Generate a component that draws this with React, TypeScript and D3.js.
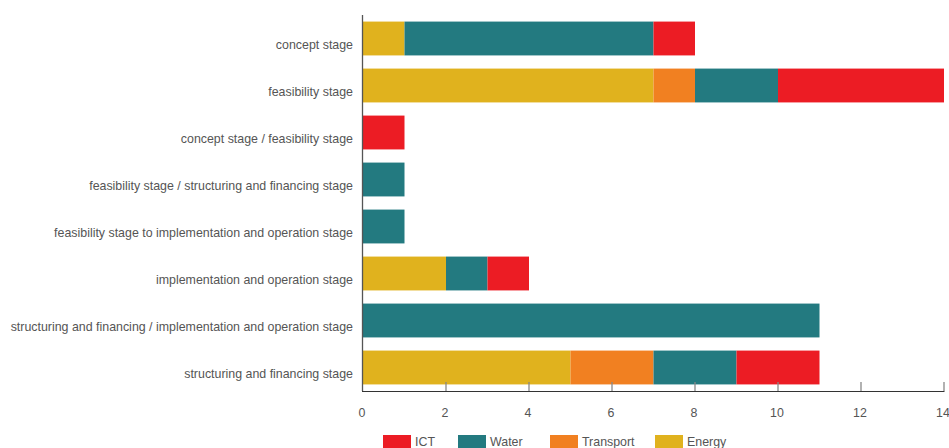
import React from "react";
import * as d3 from "d3";

const categories = [
  "concept stage",
  "feasibility stage",
  "concept stage / feasibility stage",
  "feasibility stage / structuring and financing stage",
  "feasibility stage to implementation and operation stage",
  "implementation and operation stage",
  "structuring and financing / implementation and operation stage",
  "structuring and financing stage",
];

const seriesNames = ["Energy", "Transport", "Water", "ICT"];
const energy = [1, 7, 0, 0, 0, 2, 0, 5];
const transport = [0, 1, 0, 0, 0, 0, 0, 2];
const water = [6, 2, 0, 1, 1, 1, 11, 2];
const ict = [1, 4, 1, 0, 0, 1, 0, 2];
const xTicks = [0, 2, 4, 6, 8, 10, 12, 14];
const legendOrder = ["ICT", "Water", "Transport", "Energy"];

const colors: Record<string, string> = {
  ICT: "#ec1c24",
  Water: "#237a80",
  Transport: "#f18021",
  Energy: "#e0b21e",
};

const W = 949;
const H = 448;
const left = 363;
const right = 944;
const top = 15;
const bottom = 391;

export default function App() {
  const rows = categories.map((c, i) => ({
    cat: c,
    Energy: energy[i],
    Transport: transport[i],
    Water: water[i],
    ICT: ict[i],
  }));
  const stack = d3.stack<any>().keys(seriesNames)(rows);
  const x = d3.scaleLinear().domain([0, 14]).range([left, right]);
  const y = d3
    .scaleBand()
    .domain(categories)
    .range([top, bottom])
    .paddingInner(0.28)
    .paddingOuter(0.14);

  const font = "'Liberation Sans', Arial, Helvetica, sans-serif";
  const legendX = [383, 458, 550, 655];

  return (
    <svg
      width={W}
      height={H}
      style={{ position: "absolute", left: 0, top: 0, display: "block" }}
      fontFamily={font}
    >
      {stack.map((s) => (
        <g key={s.key} fill={colors[s.key]}>
          {s.map((d, i) =>
            d[1] - d[0] > 0 ? (
              <rect
                key={i}
                x={x(d[0])}
                y={y(categories[i])!}
                width={x(d[1]) - x(d[0])}
                height={y.bandwidth()}
              />
            ) : null
          )}
        </g>
      ))}
      {categories.map((c) => (
        <text
          key={c}
          x={353}
          y={y(c)! + y.bandwidth() / 2 + 6}
          dy="0.35em"
          textAnchor="end"
          fontSize={12.4}
          fill="#555"
        >
          {c}
        </text>
      ))}
      <line x1={362.5} x2={362.5} y1={top} y2={bottom} stroke="#555" strokeWidth={1.3} />
      <line x1={362} x2={right + 0.5} y1={bottom + 0.5} y2={bottom + 0.5} stroke="#333" strokeWidth={1.2} />
      {xTicks.map((t) => (
        <g key={t}>
          {t > 0 && (
            <line
              x1={x(t)}
              x2={x(t)}
              y1={bottom - 9}
              y2={bottom}
              stroke="#888"
              strokeWidth={1.3}
            />
          )}
          <text x={x(t) - 1} y={413} dy="0.35em" textAnchor="middle" fontSize={12.4} fill="#555">
            {t}
          </text>
        </g>
      ))}
      {legendOrder.map((k, i) => (
        <g key={k}>
          <rect x={legendX[i]} y={435} width={28} height={14} fill={colors[k]} />
          <text x={legendX[i] + 32} y={442} dy="0.35em" fontSize={12.4} fill="#555">
            {k}
          </text>
        </g>
      ))}
    </svg>
  );
}
